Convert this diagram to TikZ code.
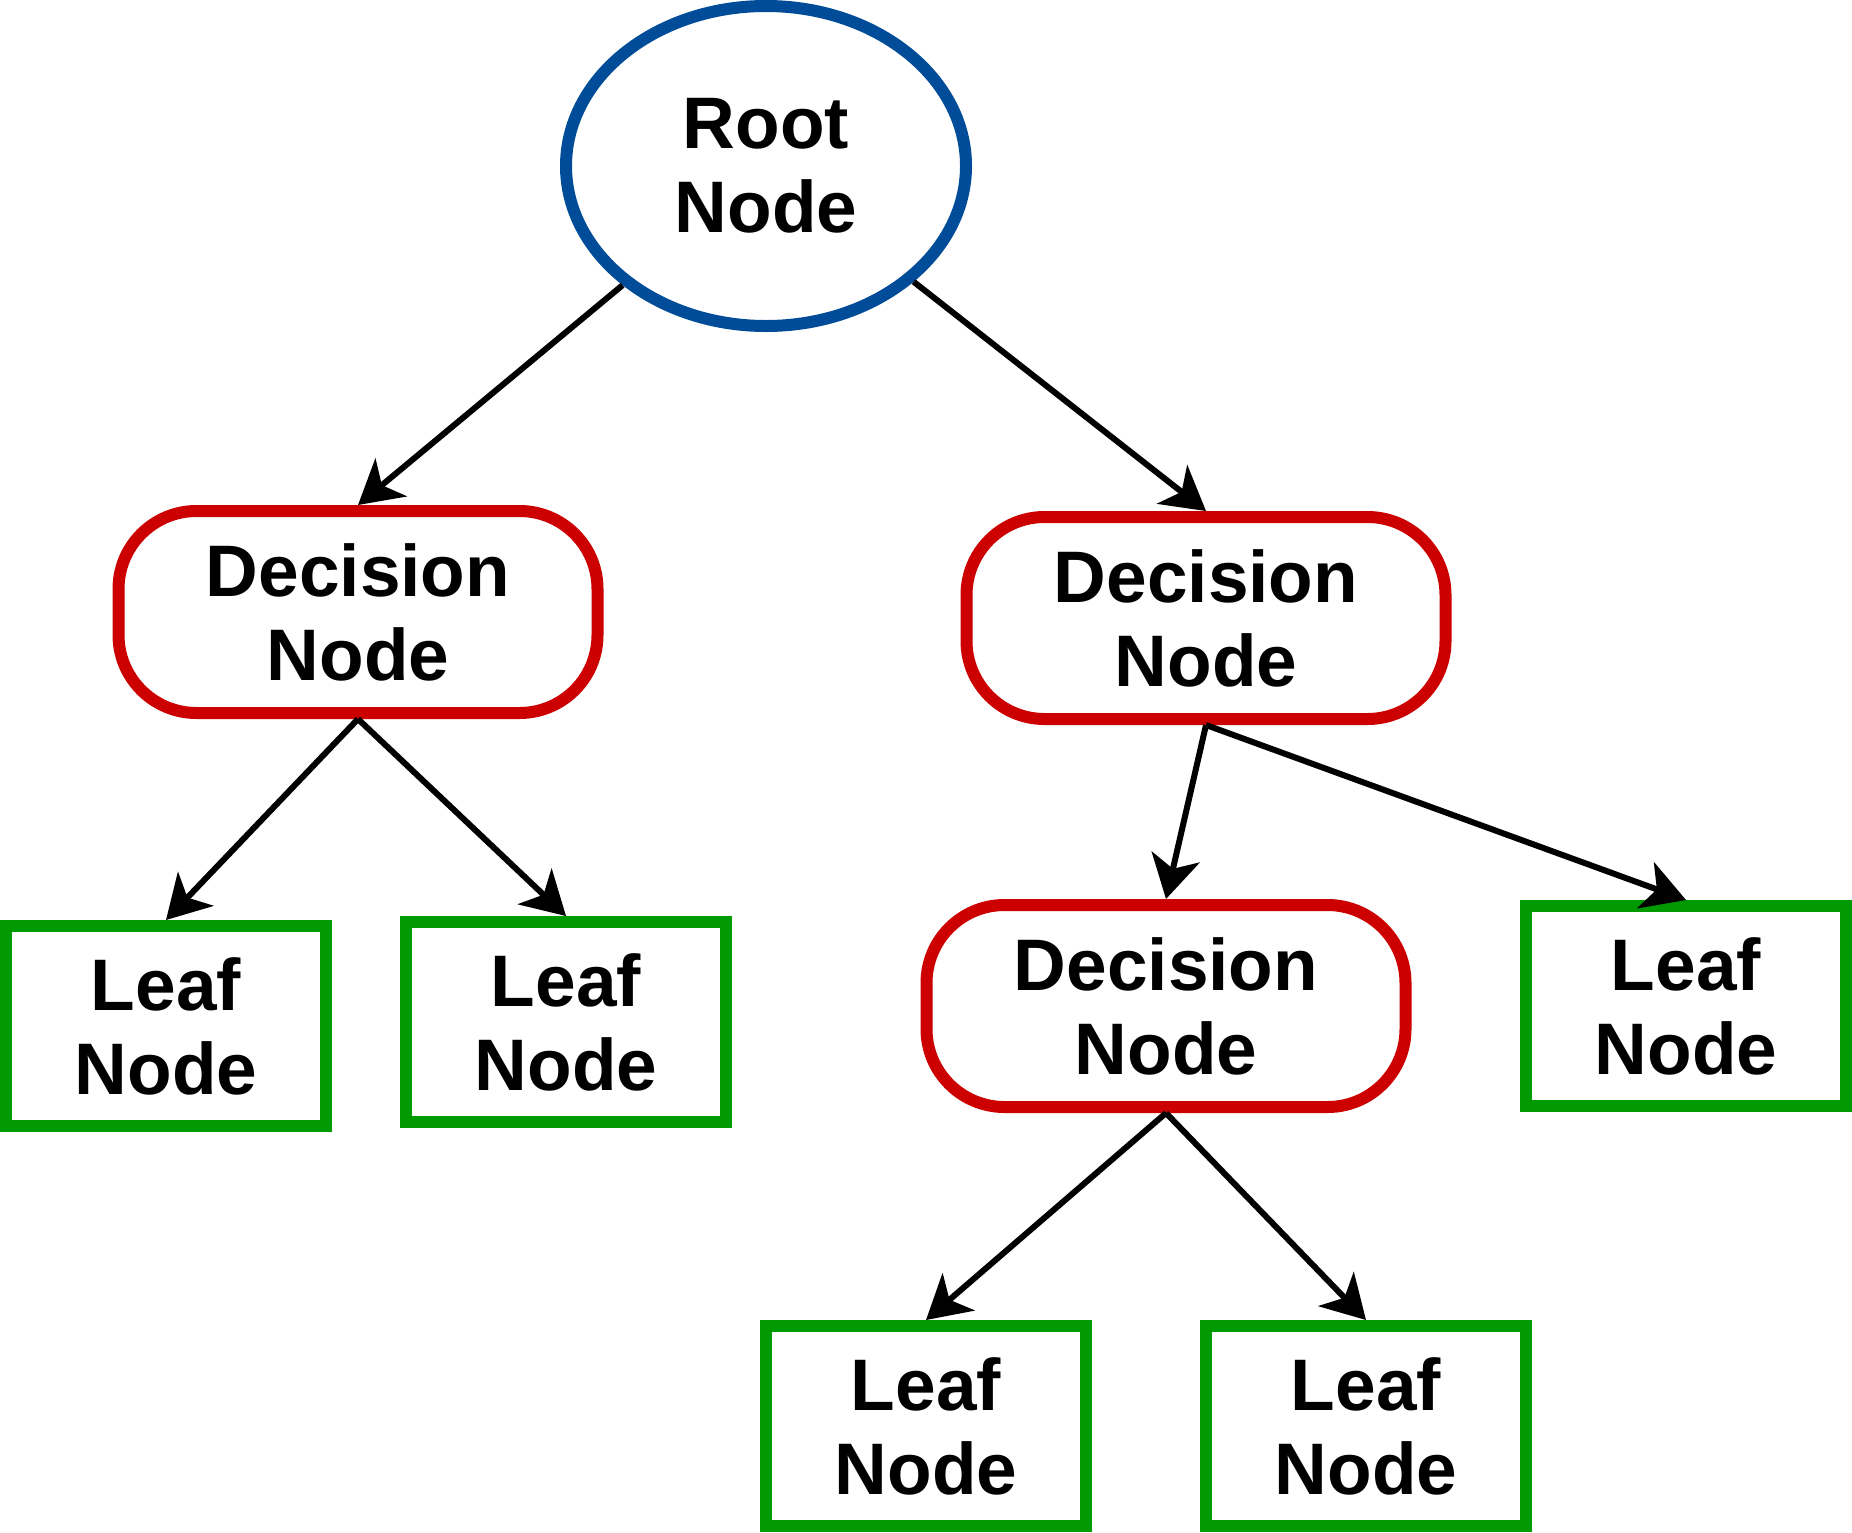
\documentclass[tikz,border=0pt]{standalone}
\usepackage{fontspec}
\setmainfont{Liberation Sans}
\usetikzlibrary{shapes.geometric,arrows.meta}
\definecolor{rootblue}{HTML}{004C99}
\definecolor{decred}{HTML}{CC0000}
\definecolor{leafgreen}{HTML}{009900}

\begin{document}
\begin{tikzpicture}[x=1pt,y=-1pt,
  nodetext/.style={font=\fontsize{73}{84}\selectfont\bfseries, align=center,
    text=black, inner sep=0pt},
  rootnode/.style={nodetext, ellipse, draw=rootblue, line width=12pt, fill=white,
    minimum width=400pt, minimum height=320pt},
  decnode/.style={nodetext, rectangle, rounded corners=78pt, draw=decred,
    line width=12pt, fill=white, minimum width=479pt, minimum height=202pt},
  leafnode/.style={nodetext, rectangle, draw=leafgreen, line width=12pt,
    fill=white, minimum width=320pt, minimum height=200pt},
  conn/.style={draw=black, line width=6pt,
    -{Stealth[length=43pt,width=49pt,inset=12pt]}}
]
% page area
\fill[white] (0,0) rectangle (1852,1532);
\useasboundingbox (0,0) rectangle (1852,1532);

% tree nodes
\node[rootnode] (root) at (766,166) {Root\\Node};
\node[decnode] (dl) at (358,612) {Decision\\Node};
\node[decnode] (dr) at (1206,618) {Decision\\Node};
\node[decnode] (dm) at (1166,1006) {Decision\\Node};
\node[leafnode] (l1) at (166,1026) {Leaf\\Node};
\node[leafnode] (l2) at (566,1022) {Leaf\\Node};
\node[leafnode] (l3) at (1686,1006) {Leaf\\Node};
\node[leafnode] (l4) at (926,1426) {Leaf\\Node};
\node[leafnode] (l5) at (1366,1426) {Leaf\\Node};

% branches
\draw[conn] (root) -- (dl.north);
\draw[conn] (root) -- (dr.north);
\draw[conn] (dl.south) -- (l1.north);
\draw[conn] (dl.south) -- (l2.north);
\draw[conn] (dr.south) -- (dm.north);
\draw[conn] (dr.south) -- (l3.north);
\draw[conn] (dm.south) -- (l4.north);
\draw[conn] (dm.south) -- (l5.north);
\end{tikzpicture}
\end{document}
